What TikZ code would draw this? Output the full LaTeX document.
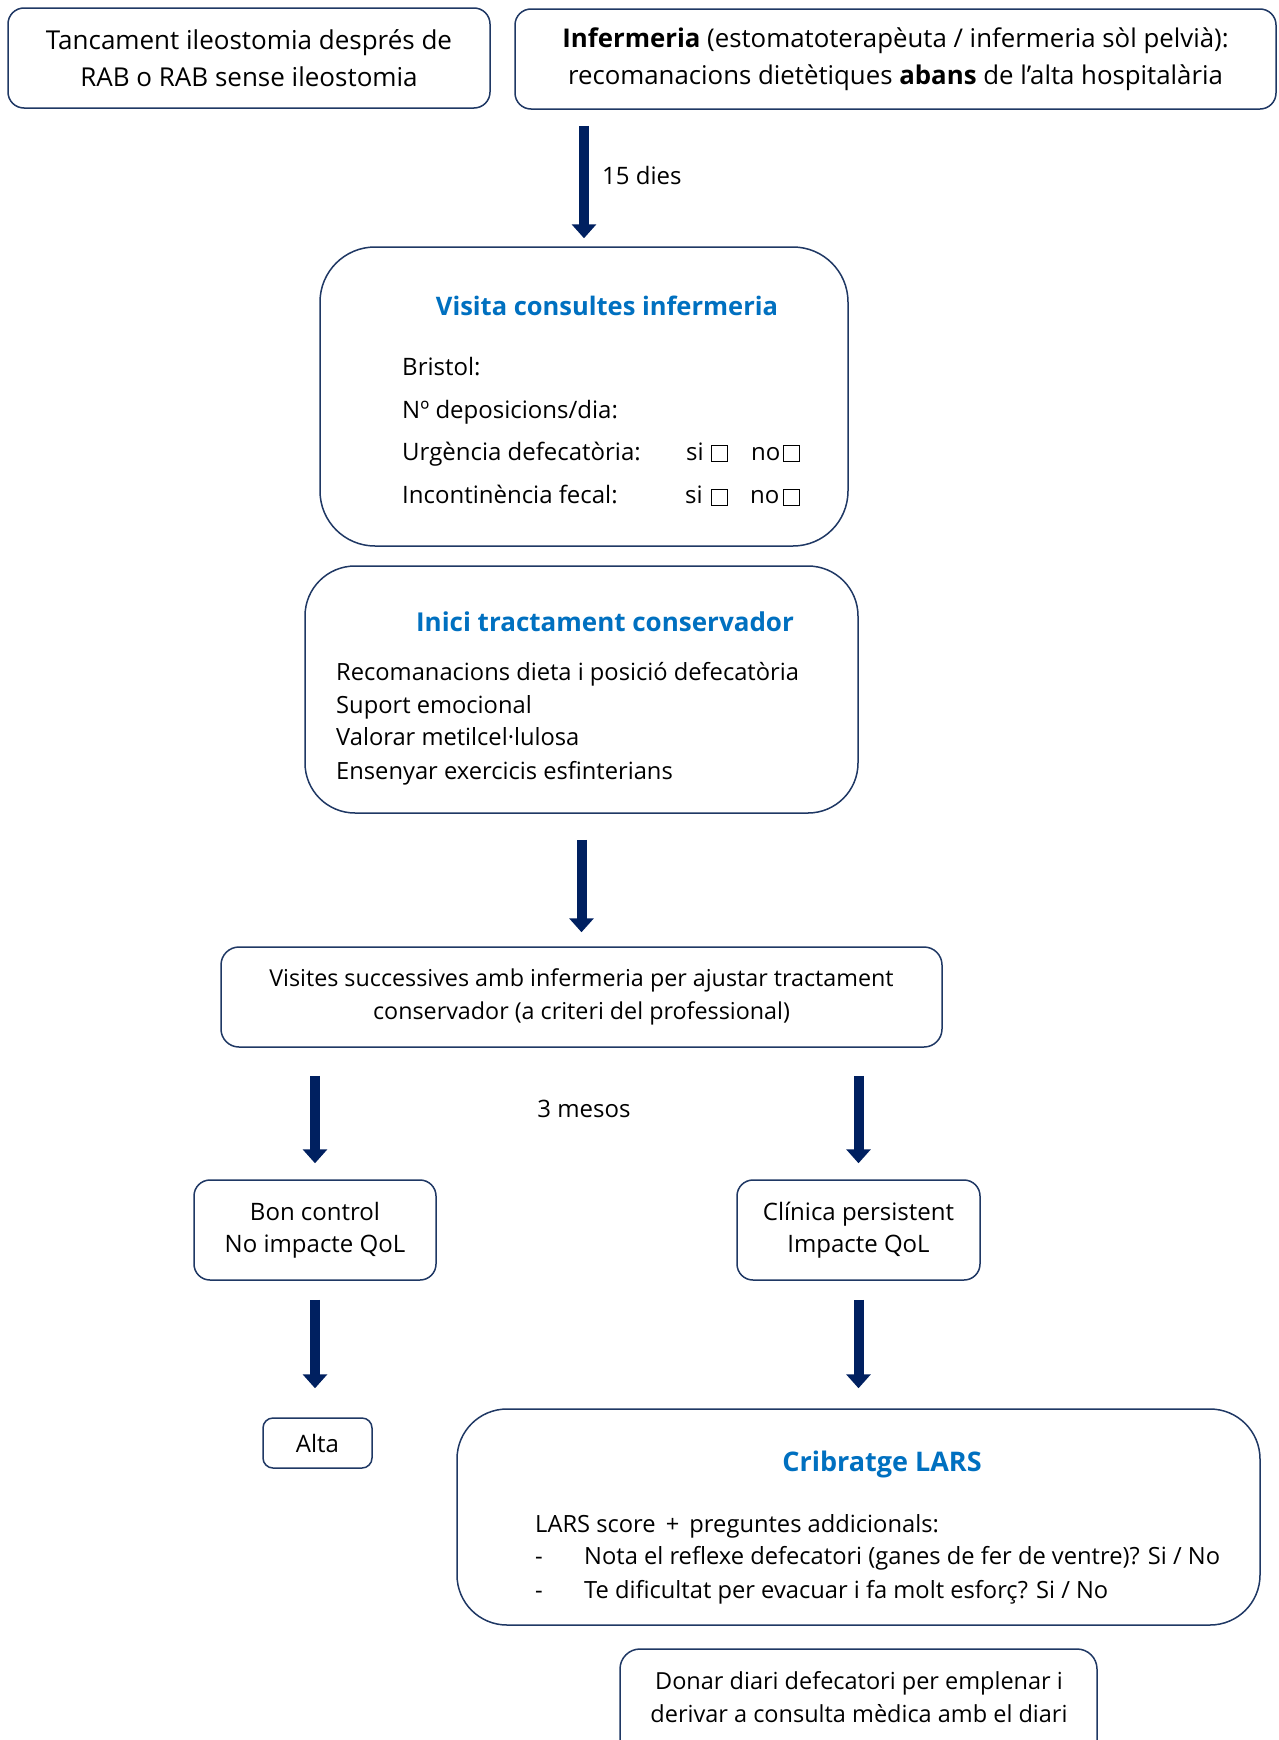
\documentclass[tikz,border=0pt]{standalone}
\usepackage{fontspec}
\setmainfont{Open Sans}
\usetikzlibrary{arrows.meta}
\definecolor{navy}{HTML}{002060}
\definecolor{boxline}{HTML}{1F3864}
\definecolor{ttl}{HTML}{0070C0}
\tikzset{
  box/.style={draw=boxline, line width=1.5pt, rounded corners=#1, inner sep=0pt, align=center},
  bigarrow/.style={draw=navy, line width=10pt, -{Triangle[width=24pt,length=14pt]}},
  txt/.style={font=\fontsize{24}{37}\selectfont, inner sep=0pt},
  toptxt/.style={font=\fontsize{26}{37}\selectfont, inner sep=0pt},
  smalltxt/.style={font=\fontsize{23.3}{33}\selectfont, inner sep=0pt},
  midtxt/.style={font=\fontsize{24}{32.5}\selectfont, inner sep=0pt},
  ttltxt/.style={font=\fontsize{25.5}{30}\selectfont\bfseries, text=ttl, inner sep=0pt},
  chk/.style={draw=black, line width=1pt, minimum size=16pt, inner sep=0pt},
}
\begin{document}
\begin{tikzpicture}[x=1pt,y=-1pt]
\useasboundingbox[fill=white] (0,0) rectangle (1278,1740);

% top boxes
\node[box=16pt, toptxt, minimum width=482pt, minimum height=100pt] (b1) at (249,58)
  {Tancament ileostomia després de\\RAB o RAB sense ileostomia};
\node[box=16pt, toptxt, font=\fontsize{25.8}{37}\selectfont, minimum width=761pt, minimum height=100pt] (b2) at (895.5,59)
  {\textbf{Infermeria} (estomatoterapèuta / infermeria sòl pelvià):\\recomanacions dietètiques \textbf{abans} de l’alta hospitalària};

% Visita box
\node[box=55pt, minimum width=528pt, minimum height=299pt] (v) at (584,396.5) {};
\node[ttltxt] (vt) at (607,306) {Visita consultes infermeria};
\node[txt, anchor=mid west] (v1) at (402,373) {Bristol:};
\node[txt, anchor=mid west] (v2) at (402,416) {Nº deposicions/dia:};
\node[txt, anchor=mid west] (v3) at (402,458) {Urgència defecatòria:};
\node[txt, anchor=mid west] (v4) at (402,501) {Incontinència fecal:};
\node[txt, anchor=mid west] (s1) at (686,458) {si};
\node[chk] (c1) at (719,453) {};
\node[txt, anchor=mid west] (n1) at (751,458) {no};
\node[chk] (c2) at (791,453) {};
\node[txt, anchor=mid west] (s2) at (685,501) {si};
\node[chk] (c3) at (719,497) {};
\node[txt, anchor=mid west] (n2) at (750,501) {no};
\node[chk] (c4) at (791,497) {};

% Inici box
\node[box=50pt, minimum width=553pt, minimum height=247pt] (ic) at (581.5,689.5) {};
\node[ttltxt, font=\fontsize{26}{30}\selectfont\bfseries] (it) at (605,622) {Inici tractament conservador};
\node[txt, font=\fontsize{23.7}{37}\selectfont, anchor=mid west] (i1) at (336,678) {Recomanacions dieta i posició defecatòria};
\node[txt, font=\fontsize{23.7}{37}\selectfont, anchor=mid west] (i2) at (336,711) {Suport emocional};
\node[txt, font=\fontsize{23.7}{37}\selectfont, anchor=mid west] (i3) at (336,743) {Valorar metilcel·lulosa};
\node[txt, font=\fontsize{23.7}{37}\selectfont, anchor=mid west] (i4) at (336,777) {Ensenyar exercicis esfinterians};

% Visites box
\node[box=18pt, smalltxt, minimum width=721pt, minimum height=100pt] (vs) at (581.5,997)
  {Visites successives amb infermeria per ajustar tractament\\conservador (a criteri del professional)};

\node[txt] (mesos) at (584,1109) {3 mesos};

\node[box=16pt, midtxt, minimum width=242pt, minimum height=100pt] (bon) at (315,1230)
  {Bon control\\No impacte QoL};
\node[box=16pt, midtxt, minimum width=243pt, minimum height=100pt] (cli) at (858.5,1230)
  {Clínica persistent\\Impacte QoL};

\node[box=10pt, txt, minimum width=109pt, minimum height=50pt] (alta) at (317.5,1443) {Alta};

% Cribratge box
\node[box=50pt, minimum width=803pt, minimum height=216pt] (cr) at (858.5,1517) {};
\node[ttltxt, font=\fontsize{27}{30}\selectfont\bfseries] (ct) at (882,1464) {Cribratge LARS};
\node[txt, font=\fontsize{23.7}{37}\selectfont, anchor=mid west] (c1t) at (535,1530) {LARS score \,+\, preguntes addicionals:};
\node[txt, font=\fontsize{23.7}{37}\selectfont, anchor=mid west] (d1) at (535,1562) {-};
\node[txt, font=\fontsize{23.7}{37}\selectfont, anchor=mid west] (q1) at (584,1562) {Nota el reflexe defecatori (ganes de fer de ventre)? Si / No};
\node[txt, font=\fontsize{23.7}{37}\selectfont, anchor=mid west] (d2) at (535,1596) {-};
\node[txt, font=\fontsize{23.7}{37}\selectfont, anchor=mid west] (q2) at (584,1596) {Te dificultat per evacuar i fa molt esforç? Si / No};

\node[box=20pt, minimum width=477pt, minimum height=130pt] (don) at (858.5,1714) {};
\node[txt, font=\fontsize{23.5}{32.5}\selectfont, align=center] (dt) at (859,1697) {Donar diari defecatori per emplenar i\\derivar a consulta mèdica amb el diari};

% arrows
\draw[bigarrow] ([yshift=-16pt]v.north |- b2.south) -- ([yshift=8pt]v.north);
\node[txt, anchor=mid west] (dies) at (602,182) {15 dies};
\draw[bigarrow] ([yshift=-26pt]ic.south) -- ([yshift=14pt]vs.north);
\draw[bigarrow] ([yshift=-28pt]bon.north |- vs.south) -- ([yshift=16pt]bon.north);
\draw[bigarrow] ([yshift=-28pt]cli.north |- vs.south) -- ([yshift=16pt]cli.north);
\draw[bigarrow] ([yshift=-19pt]bon.south) -- ([yshift=29pt]bon.south |- alta.north);
\draw[bigarrow] ([yshift=-19pt]cli.south) -- ([yshift=20pt]cr.north);
\end{tikzpicture}
\end{document}
